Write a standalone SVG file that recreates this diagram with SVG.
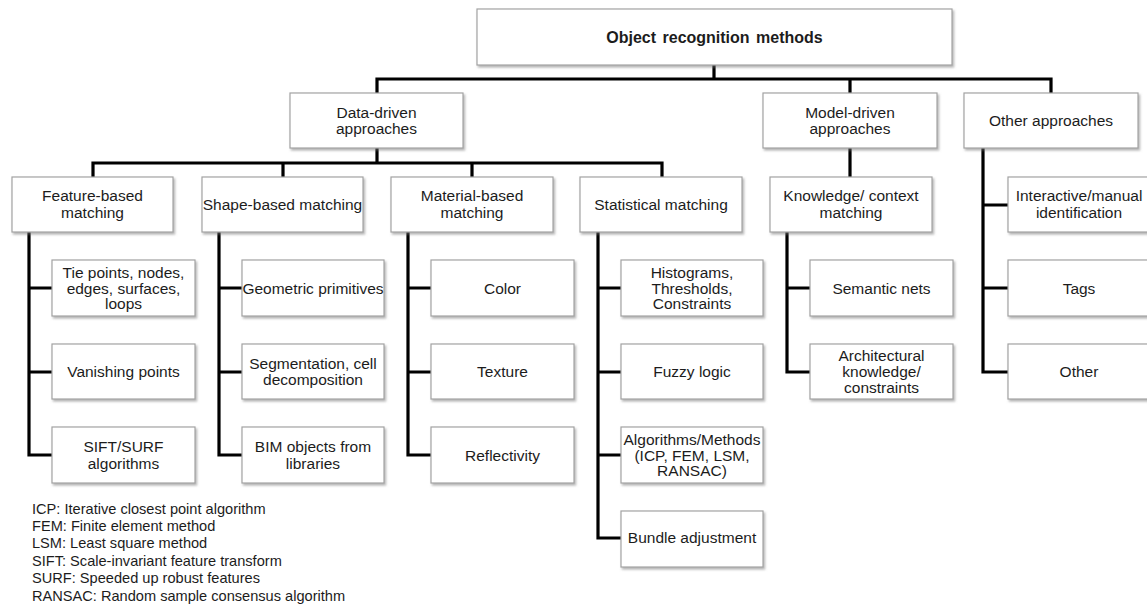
<svg xmlns="http://www.w3.org/2000/svg" width="1147" height="606" viewBox="0 0 1147 606">
<style>
.box{fill:#fff;stroke:#a3a3a3;stroke-width:1.2;filter:url(#sh)}
.t{font-family:"Liberation Sans",Arial,sans-serif;font-size:15.5px;fill:#1c1c1c;text-anchor:middle}
.tb{font-family:"Liberation Sans",Arial,sans-serif;font-size:16px;font-weight:bold;fill:#1c1c1c;text-anchor:middle;word-spacing:2px}
.leg{font-family:"Liberation Sans",Arial,sans-serif;font-size:14.6px;fill:#1c1c1c}
.c{fill:none;stroke:#000;stroke-width:3.2;stroke-linejoin:miter;stroke-linecap:square}
</style>
<defs>
<filter id="sh" x="-10%" y="-10%" width="130%" height="140%">
<feDropShadow dx="1.5" dy="2" stdDeviation="1.2" flood-color="#777" flood-opacity="0.55"/>
</filter>
</defs>
<rect width="1147" height="606" fill="#fff"/>
<g id="connectors">
<path class="c" d="M714 65V79M377 93V79H1051V93M850 79V93"/>
<path class="c" d="M377 148V163M93 177V163H662V177M283 163V177M472 163V177"/>
<path class="c" d="M850 148V177"/>
<path class="c" d="M29 232V455H52M29 288H52M29 372H52"/>
<path class="c" d="M219 232V455H242M219 288H242M219 372H242"/>
<path class="c" d="M408 232V455H431M408 288H431M408 372H431"/>
<path class="c" d="M598 232V538H621M598 288H621M598 372H621M598 455H621"/>
<path class="c" d="M787 232V372H810M787 288H810"/>
<path class="c" d="M983 148V372H1008M983 205H1008M983 288H1008"/>
</g>
<g id="root"><rect class="box" x="477" y="9" width="475" height="56"/><text class="tb" x="714.5" y="42.5">Object recognition methods</text></g>
<g id="data-driven"><rect class="box" x="290" y="93" width="173" height="55"/><text class="t" x="376.5" y="117.5">Data-driven</text><text class="t" x="376.5" y="134">approaches</text></g>
<g id="model-driven"><rect class="box" x="763" y="93" width="174" height="55"/><text class="t" x="850" y="117.5">Model-driven</text><text class="t" x="850" y="134">approaches</text></g>
<g id="other-approaches"><rect class="box" x="964" y="93" width="174" height="55"/><text class="t" x="1051" y="126">Other approaches</text></g>

<g id="feature-based"><rect class="box" x="12" y="177" width="161" height="55"/><text class="t" x="92.5" y="200.5">Feature-based</text><text class="t" x="92.5" y="217.5">matching</text></g>
<g id="shape-based"><rect class="box" x="202" y="177" width="161" height="55"/><text class="t" x="282.5" y="209.5">Shape-based matching</text></g>
<g id="material-based"><rect class="box" x="391" y="177" width="162" height="55"/><text class="t" x="472" y="200.5">Material-based</text><text class="t" x="472" y="217.5">matching</text></g>
<g id="statistical"><rect class="box" x="580" y="177" width="162" height="55"/><text class="t" x="661" y="209.5">Statistical matching</text></g>
<g id="knowledge"><rect class="box" x="770" y="177" width="162" height="55"/><text class="t" x="851" y="200.5">Knowledge/ context</text><text class="t" x="851" y="217.5">matching</text></g>
<g id="interactive"><rect class="box" x="1008" y="177" width="142" height="55"/><text class="t" x="1079" y="200.5">Interactive/manual</text><text class="t" x="1079" y="217.5">identification</text></g>

<g id="tie-points"><rect class="box" x="52" y="260" width="143" height="56"/><text class="t" x="123.5" y="277.5">Tie points, nodes,</text><text class="t" x="123.5" y="293.5">edges, surfaces,</text><text class="t" x="123.5" y="309">loops</text></g>
<g id="vanishing"><rect class="box" x="52" y="344" width="143" height="55"/><text class="t" x="123.5" y="377">Vanishing points</text></g>
<g id="sift-surf"><rect class="box" x="52" y="427" width="143" height="56"/><text class="t" x="123.5" y="452">SIFT/SURF</text><text class="t" x="123.5" y="469">algorithms</text></g>

<g id="geometric"><rect class="box" x="242" y="260" width="142" height="56"/><text class="t" x="313" y="293.5">Geometric primitives</text></g>
<g id="segmentation"><rect class="box" x="242" y="344" width="142" height="55"/><text class="t" x="313" y="368.5">Segmentation, cell</text><text class="t" x="313" y="385">decomposition</text></g>
<g id="bim"><rect class="box" x="242" y="427" width="142" height="56"/><text class="t" x="313" y="452">BIM objects from</text><text class="t" x="313" y="469">libraries</text></g>

<g id="color"><rect class="box" x="431" y="260" width="143" height="56"/><text class="t" x="502.5" y="293.5">Color</text></g>
<g id="texture"><rect class="box" x="431" y="344" width="143" height="55"/><text class="t" x="502.5" y="377">Texture</text></g>
<g id="reflectivity"><rect class="box" x="431" y="427" width="143" height="56"/><text class="t" x="502.5" y="460.5">Reflectivity</text></g>

<g id="histograms"><rect class="box" x="621" y="260" width="142" height="56"/><text class="t" x="692" y="277.5">Histograms,</text><text class="t" x="692" y="293.5">Thresholds,</text><text class="t" x="692" y="309">Constraints</text></g>
<g id="fuzzy"><rect class="box" x="621" y="344" width="142" height="55"/><text class="t" x="692" y="377">Fuzzy logic</text></g>
<g id="algorithms"><rect class="box" x="621" y="427" width="142" height="56"/><text class="t" x="692" y="444.5">Algorithms/Methods</text><text class="t" x="692" y="460.5">(ICP, FEM, LSM,</text><text class="t" x="692" y="476">RANSAC)</text></g>
<g id="bundle"><rect class="box" x="621" y="511" width="142" height="56"/><text class="t" x="692" y="542.5">Bundle adjustment</text></g>

<g id="semantic"><rect class="box" x="810" y="260" width="143" height="56"/><text class="t" x="881.5" y="293.5">Semantic nets</text></g>
<g id="architectural"><rect class="box" x="810" y="344" width="143" height="55"/><text class="t" x="881.5" y="360.5">Architectural</text><text class="t" x="881.5" y="377">knowledge/</text><text class="t" x="881.5" y="392.5">constraints</text></g>

<g id="tags"><rect class="box" x="1008" y="260" width="142" height="56"/><text class="t" x="1079" y="293.5">Tags</text></g>
<g id="other"><rect class="box" x="1008" y="344" width="142" height="55"/><text class="t" x="1079" y="377">Other</text></g>

<g id="legend">
<text class="leg" x="32" y="514">ICP: Iterative closest point algorithm</text>
<text class="leg" x="32" y="531">FEM: Finite element method</text>
<text class="leg" x="32" y="548">LSM: Least square method</text>
<text class="leg" x="32" y="566">SIFT: Scale-invariant feature transform</text>
<text class="leg" x="32" y="583">SURF: Speeded up robust features</text>
<text class="leg" x="32" y="601">RANSAC: Random sample consensus algorithm</text>
</g>
</svg>
